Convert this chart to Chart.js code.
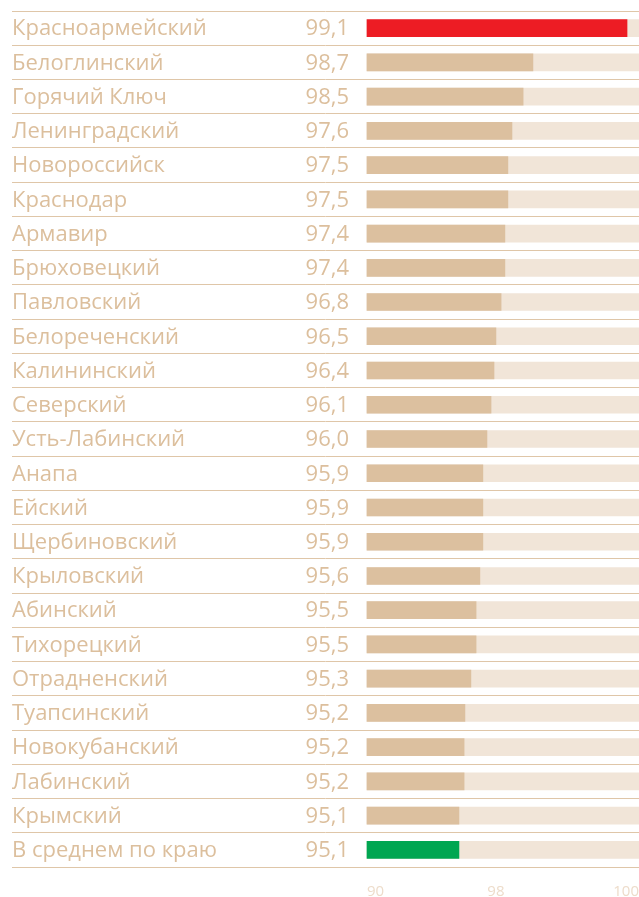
<!DOCTYPE html>
<html lang="ru">
<head>
<meta charset="utf-8">
<title>Рейтинг районов</title>
<script src="https://cdn.jsdelivr.net/npm/chart.js@4/dist/chart.umd.min.js"></script>
<style>
    html, body { margin: 0; padding: 0; background: #ffffff; }
    canvas { display: block; }
</style>
</head>
<body>
<canvas id="ratingChart" width="639" height="897"></canvas>
<script>
// Districts, top to bottom
const districts = [
    'Красноармейский', 'Белоглинский', 'Горячий Ключ', 'Ленинградский', 'Новороссийск',
    'Краснодар', 'Армавир', 'Брюховецкий', 'Павловский', 'Белореченский',
    'Калининский', 'Северский', 'Усть-Лабинский', 'Анапа', 'Ейский',
    'Щербиновский', 'Крыловский', 'Абинский', 'Тихорецкий', 'Отрадненский',
    'Туапсинский', 'Новокубанский', 'Лабинский', 'Крымский', 'В среднем по краю'
];

// Printed score of each district
const scores = [
    99.1, 98.7, 98.5, 97.6, 97.5, 97.5, 97.4, 97.4, 96.8, 96.5,
    96.4, 96.1, 96.0, 95.9, 95.9, 95.9, 95.6, 95.5, 95.5, 95.3,
    95.2, 95.2, 95.2, 95.1, 95.1
];

// Bar length as drawn in the picture, in % of the track
const barLength = [
    95.6, 61.0, 57.4, 53.3, 51.8, 51.8, 50.7, 50.7, 49.3, 47.4,
    46.7, 45.6, 44.1, 42.6, 42.6, 42.6, 41.5, 40.1, 40.1, 38.2,
    36.0, 35.7, 35.7, 33.8, 33.8
];

// Bottom axis: tick positions on the track and their labels
const axisTicks = [0, 47.4, 100];
const axisLabels = ['90', '98', '100'];

const COLORS = {
    text: '#dcbf9d',
    axisText: '#eddcca',
    line: '#dfc6a8',
    bar: '#dcc09f',
    track: '#f1e5d8',
    top: '#ed1c24',
    average: '#00a651'
};

// share of the width taken by names and scores, left of the track
const LABEL_AREA = 355 / 272 * 100;

function barColors() {
    return barLength.map((v, i) => {
        if (i === 0) return COLORS.top;
        if (i === barLength.length - 1) return COLORS.average;
        return COLORS.bar;
    });
}

function formatScore(v) {
    return v.toFixed(1).replace('.', ',');
}

// axes here take no room of their own: the chart area covers the whole canvas
function flatAxis(size) {
    return (scale) => {
        if (scale.isHorizontal()) scale.height = size;
        else scale.width = size;
        scale.paddingTop = 0;
        scale.paddingBottom = 0;
        scale.paddingLeft = 0;
        scale.paddingRight = 0;
    };
}

function createRatingChart() {
    const canvas = document.getElementById('ratingChart');
    if (!canvas) return null;

    Chart.defaults.font.family = "'Open Sans', Roboto, sans-serif";
    Chart.defaults.font.size = 22;

    return new Chart(canvas, {
        type: 'bar',
        data: {
            labels: districts,
            datasets: [
                {
                    label: 'Значение',
                    data: barLength,
                    backgroundColor: barColors(),
                    barThickness: 17,
                    grouped: false,
                    order: 1
                },
                {
                    label: 'Шкала',
                    data: districts.map(() => 100),
                    backgroundColor: COLORS.track,
                    barThickness: 17,
                    grouped: false,
                    order: 2
                }
            ]
        },
        options: {
            indexAxis: 'y',
            responsive: false,
            animation: false,
            devicePixelRatio: 1,
            layout: { padding: { left: 12, top: 11, right: 0, bottom: 0 } },
            scales: {
                x: {
                    type: 'linear',
                    min: -LABEL_AREA,
                    max: 100,
                    grid: { display: false },
                    border: { display: true, color: COLORS.line, width: 1 },
                    afterBuildTicks: (scale) => {
                        scale.ticks = axisTicks.map(v => ({ value: v }));
                    },
                    afterFit: flatAxis(30),
                    ticks: {
                        autoSkip: false,
                        maxRotation: 0,
                        align: 'inner',
                        padding: 8,
                        color: COLORS.axisText,
                        font: { size: 15 },
                        callback: (value, index) => axisLabels[index]
                    }
                },
                y: {
                    position: 'left',
                    offset: true,
                    grid: { offset: true, drawTicks: false, color: COLORS.line, lineWidth: 1 },
                    border: { display: false },
                    afterFit: flatAxis(0),
                    ticks: { autoSkip: false, mirror: true, padding: 0, labelOffset: 1, color: COLORS.text }
                },
                y2: {
                    type: 'category',
                    position: 'right',
                    labels: scores.map(formatScore),
                    offset: true,
                    grid: { display: false, drawTicks: false },
                    border: { display: false },
                    afterFit: flatAxis(0),
                    ticks: { autoSkip: false, mirror: true, padding: -290, labelOffset: 1, color: COLORS.text }
                }
            },
            plugins: {
                legend: { display: false },
                tooltip: { enabled: false }
            }
        }
    });
}

createRatingChart();
</script>
</body>
</html>
